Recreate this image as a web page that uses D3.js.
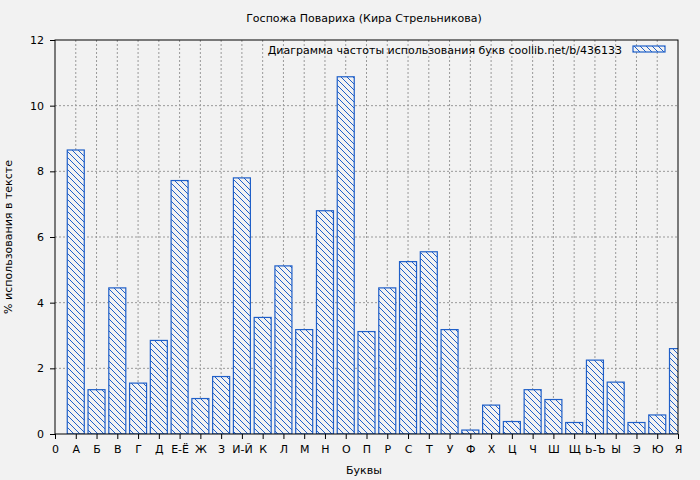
<!DOCTYPE html>
<html><head><meta charset="utf-8">
<script src="https://cdn.jsdelivr.net/npm/d3@7"></script>
<style>body{margin:0;background:#f2f2f2}text{font-family:"DejaVu Sans",sans-serif}</style>
</head><body><div id="chart"></div>
<script>
// letter categories and their frequency, %
let letters = ["А","Б","В","Г","Д","Е-Ё","Ж","З","И-Й","К","Л","М","Н","О","П","Р","С","Т","У","Ф","Х","Ц","Ч","Ш","Щ","Ь-Ъ","Ы","Э","Ю","Я"]
let freq = [8.65,1.35,4.45,1.55,2.85,7.72,1.08,1.75,7.8,3.55,5.12,3.18,6.8,10.88,3.12,4.45,5.25,5.55,3.18,0.12,0.88,0.38,1.35,1.05,0.35,2.25,1.58,0.35,0.58,2.6]
let yTicks = [0,2,4,6,8,10,12]

let W = 700, H = 480
let m = {left: 55, top: 40, right: 678, bottom: 434}
let blue = "#1f5fc8"

let svg = d3.select("#chart").append("svg").attr("width", W).attr("height", H)

let defs = svg.append("defs")
defs.append("pattern").attr("id", "hatch").attr("patternUnits", "userSpaceOnUse")
  .attr("width", 6).attr("height", 6)
  .call(p => {
    p.append("rect").attr("width", 6).attr("height", 6).attr("fill", "#f2f2f2")
    p.append("path").attr("d", "M-1,-1 L7,7 M-1,5 L1,7 M5,-1 L7,1").attr("stroke", blue).attr("stroke-width", 1)
  })
defs.append("clipPath").attr("id", "clip").append("rect")
  .attr("x", m.left).attr("y", m.top).attr("width", m.right - m.left).attr("height", m.bottom - m.top)

let x = d3.scaleLinear().domain([0, 30]).range([m.left, m.right])
let y = d3.scaleLinear().domain([0, 12]).range([m.bottom, m.top])

// grid
svg.append("g").selectAll("line").data(d3.range(1, 30)).enter().append("line")
  .attr("x1", d => x(d)).attr("x2", d => x(d)).attr("y1", m.top).attr("y2", m.bottom)
  .attr("stroke", "#999").attr("stroke-dasharray", "2,2")
svg.append("g").selectAll("line").data(yTicks.slice(1, -1)).enter().append("line")
  .attr("x1", m.left).attr("x2", m.right).attr("y1", d => y(d)).attr("y2", d => y(d))
  .attr("stroke", "#999").attr("stroke-dasharray", "2,2")

// bars
svg.append("g").attr("clip-path", "url(#clip)").selectAll("rect").data(freq).enter().append("rect")
  .attr("x", (d, i) => x(i + 1) - 8.5).attr("width", 17)
  .attr("y", d => y(d)).attr("height", d => y(0) - y(d))
  .attr("fill", "url(#hatch)").attr("stroke", blue).attr("stroke-width", 1.2)

// frame
svg.append("rect").attr("x", m.left).attr("y", m.top).attr("width", m.right - m.left).attr("height", m.bottom - m.top)
  .attr("fill", "none").attr("stroke", "#000")

let xAxis = svg.append("g").attr("transform", `translate(0,${m.bottom})`)
  .call(d3.axisBottom(x).tickValues(d3.range(0, 31)).tickSize(5).tickPadding(6)
    .tickFormat(d => d === 0 ? "0" : letters[d - 1]))
let yAxis = svg.append("g").attr("transform", `translate(${m.left},0)`)
  .call(d3.axisLeft(y).tickValues(yTicks).tickSize(5).tickPadding(6).tickFormat(d3.format("d")))
;[xAxis, yAxis].forEach(a => {
  a.select(".domain").remove()
  a.selectAll("text").attr("font-size", 11).attr("fill", "#000")
})

svg.append("text").attr("x", 364).attr("y", 22).attr("text-anchor", "middle").attr("font-size", 11)
  .text("Госпожа Повариха (Кира Стрельникова)")
svg.append("text").attr("x", 364).attr("y", 474).attr("text-anchor", "middle").attr("font-size", 11)
  .text("Буквы")
svg.append("text").attr("transform", "translate(12,237) rotate(-90)").attr("text-anchor", "middle").attr("font-size", 11)
  .text("% использования в тексте")

// legend
svg.append("text").attr("x", 622).attr("y", 54).attr("text-anchor", "end").attr("font-size", 11)
  .text("Диаграмма частоты использования букв  coollib.net/b/436133")
svg.append("rect").attr("x", 633).attr("y", 46).attr("width", 32).attr("height", 6)
  .attr("fill", "url(#hatch)").attr("stroke", blue).attr("stroke-width", 1.2)
</script></body></html>
